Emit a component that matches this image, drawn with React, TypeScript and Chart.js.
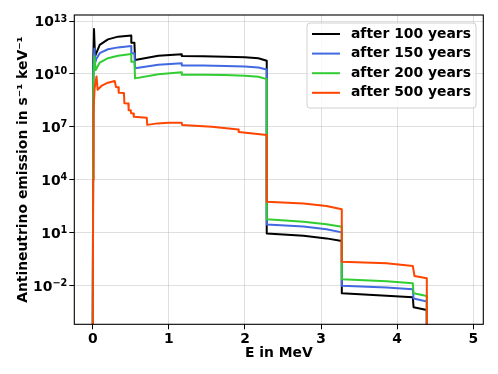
import React, { useEffect, useRef } from "react";
import { Chart, registerables } from "chart.js";

Chart.register(...registerables);

const seriesLabels = ["after 100 years", "after 150 years", "after 200 years", "after 500 years"];
const seriesColors = ["#000000", "#4169E1", "#32CD32", "#FF4500"];

// E in MeV, emission in s^-1 keV^-1
const energy100 = [0, 0.008, 0.017, 0.03, 0.047, 0.092, 0.2, 0.332, 0.507, 0.507, 0.548, 0.556, 0.862, 1.17, 1.17, 1.45, 1.74, 2.0, 2.176, 2.286, 2.286, 2.77, 3.07, 3.272, 3.272, 3.86, 4.205, 4.215, 4.389, 4.389];
const emission100 = [1e-6, 6.3e10, 3.5e12, 1.0e11, 1.5e11, 4.4e11, 9.1e11, 1.3e12, 1.5e12, 5.9e11, 5.9e11, 6.2e10, 1.07e11, 1.3e11, 1.05e11, 1.02e11, 9.5e10, 8.7e10, 7.8e10, 5.6e10, 9.1, 6.8, 4.8, 3.4, 3.7e-3, 2.7e-3, 2.2e-3, 6.0e-4, 4.2e-4, 1e-6];

const energy150 = [0, 0.008, 0.022, 0.034, 0.047, 0.092, 0.2, 0.332, 0.507, 0.507, 0.548, 0.556, 0.862, 1.17, 1.17, 1.45, 1.74, 2.0, 2.176, 2.286, 2.286, 2.77, 3.07, 3.272, 3.272, 3.86, 4.205, 4.215, 4.389, 4.389];
const emission150 = [1e-6, 3.2e10, 2.8e11, 4.4e10, 7.1e10, 1.5e11, 2.5e11, 3.2e11, 3.8e11, 1.5e11, 1.5e11, 2.1e10, 3.3e10, 4.0e10, 3.0e10, 3.0e10, 2.8e10, 2.6e10, 2.3e10, 1.8e10, 29.5, 22.4, 15.8, 10.5, 1.0e-2, 7.9e-3, 6.3e-3, 1.9e-3, 1.26e-3, 1e-6];

const energy200 = [0, 0.008, 0.022, 0.04, 0.092, 0.2, 0.332, 0.507, 0.507, 0.548, 0.556, 0.862, 1.17, 1.17, 1.45, 1.74, 2.0, 2.176, 2.286, 2.286, 2.77, 3.07, 3.272, 3.272, 3.86, 4.205, 4.215, 4.389, 4.389];
const emission200 = [1e-6, 6.3e9, 1.0e11, 1.66e10, 4.4e10, 7.8e10, 1.07e11, 1.35e11, 4.9e10, 4.9e10, 5.6e9, 9.5e9, 1.23e10, 9.1e9, 9.1e9, 8.7e9, 7.9e9, 6.9e9, 5.1e9, 57.5, 41.7, 30.2, 21.9, 2.3e-2, 1.78e-2, 1.38e-2, 3.7e-3, 2.6e-3, 1e-6];

const energy500 = [0, 0.006, 0.012, 0.025, 0.05, 0.065, 0.12, 0.2, 0.289, 0.306, 0.337, 0.342, 0.41, 0.416, 0.468, 0.472, 0.5, 0.505, 0.534, 0.54, 0.71, 0.716, 0.85, 0.993, 1.17, 1.175, 1.564, 1.913, 1.918, 2.286, 2.286, 2.77, 3.07, 3.272, 3.272, 3.86, 4.205, 4.227, 4.389, 4.389];
const emission500 = [1e-6, 1e4, 1e8, 1.6e9, 7.2e9, 1.26e9, 2.2e9, 3.2e9, 4.0e9, 1.8e9, 1.74e9, 8.7e8, 8.3e8, 2.2e8, 2.1e8, 8.9e7, 8.7e7, 5.9e7, 5.75e7, 3.7e7, 3.3e7, 1.3e7, 1.58e7, 1.7e7, 1.7e7, 1.26e7, 1.02e7, 7.2e6, 5.2e6, 3.5e6, 575, 457, 324, 214, 0.23, 0.186, 0.132, 0.0355, 0.0263, 1e-6];

const xTicks = [0, 1, 2, 3, 4, 5];
const xTickLabels = ["0", "1", "2", "3", "4", "5"];
const yTicks = [1e-2, 1e1, 1e4, 1e7, 1e10, 1e13];
const yTickBase = "10";
const yTickExponents = ["\u22122", "1", "4", "7", "10", "13"];

const xTitle = "E in MeV";
const yTitle = "Antineutrino emission in s⁻¹ keV⁻¹";

const FONT_FAMILY = "'DejaVu Sans', 'Liberation Sans', sans-serif";
const FS = 13.9;
const FS_SUP = 9.7;

const frameAndLegend = {
  id: "frameAndLegend",
  afterDraw(chart: any) {
    const { ctx, chartArea } = chart;
    const { left, right, top, bottom } = chartArea;
    ctx.save();
    // frame
    ctx.strokeStyle = "#000";
    ctx.lineWidth = 1.1;
    ctx.strokeRect(left, top, right - left, bottom - top);

    // y tick labels with superscript exponents
    const yScale = chart.scales.y;
    const labelRight = left - 7;
    ctx.fillStyle = "#000";
    ctx.textBaseline = "alphabetic";
    ctx.textAlign = "left";
    yTicks.forEach((v, i) => {
      const py = yScale.getPixelForValue(v);
      ctx.font = `bold ${FS_SUP}px ${FONT_FAMILY}`;
      const wExp = ctx.measureText(yTickExponents[i]).width;
      ctx.font = `bold ${FS}px ${FONT_FAMILY}`;
      const wBase = ctx.measureText(yTickBase).width;
      const xb = labelRight - wExp - wBase;
      ctx.fillText(yTickBase, xb, py + 5);
      ctx.font = `bold ${FS_SUP}px ${FONT_FAMILY}`;
      ctx.fillText(yTickExponents[i], xb + wBase, py + 0.5);
    });

    // legend
    const w = 169;
    const h = 85;
    const x0 = right - 7.3 - w;
    const y0 = top + 8;
    const r = 3;
    ctx.beginPath();
    ctx.moveTo(x0 + r, y0);
    ctx.lineTo(x0 + w - r, y0);
    ctx.arcTo(x0 + w, y0, x0 + w, y0 + r, r);
    ctx.lineTo(x0 + w, y0 + h - r);
    ctx.arcTo(x0 + w, y0 + h, x0 + w - r, y0 + h, r);
    ctx.lineTo(x0 + r, y0 + h);
    ctx.arcTo(x0, y0 + h, x0, y0 + h - r, r);
    ctx.lineTo(x0, y0 + r);
    ctx.arcTo(x0, y0, x0 + r, y0, r);
    ctx.closePath();
    ctx.fillStyle = "rgba(255,255,255,0.8)";
    ctx.fill();
    ctx.strokeStyle = "#d0d0d0";
    ctx.lineWidth = 1;
    ctx.stroke();

    ctx.font = `bold ${FS}px ${FONT_FAMILY}`;
    ctx.textBaseline = "middle";
    ctx.textAlign = "left";
    chart.data.datasets.forEach((ds: any, i: number) => {
      const cy = y0 + 11 + i * 19.6;
      ctx.strokeStyle = ds.borderColor;
      ctx.lineWidth = 2;
      ctx.beginPath();
      ctx.moveTo(x0 + 5, cy);
      ctx.lineTo(x0 + 33, cy);
      ctx.stroke();
      ctx.fillStyle = "#000";
      ctx.fillText(ds.label, x0 + 44, cy);
    });
    ctx.restore();
  },
};

export default function App() {
  const canvasRef = useRef<HTMLCanvasElement | null>(null);

  useEffect(() => {
    document.body.style.margin = "0";
    const canvas = canvasRef.current;
    if (!canvas) return;
    const energies = [energy100, energy150, energy200, energy500];
    const emissions = [emission100, emission150, emission200, emission500];
    const datasets = seriesLabels.map((label, k) => ({
      label,
      data: energies[k].map((e, i) => ({ x: e, y: emissions[k][i] })),
      borderColor: seriesColors[k],
      backgroundColor: seriesColors[k],
      borderWidth: 2,
      pointRadius: 0,
      tension: 0,
      fill: false,
      borderJoinStyle: "round" as const,
      order: seriesLabels.length - 1 - k,
    }));

    const font = { family: FONT_FAMILY, size: FS, weight: "bold" as const };
    const gridOpts = {
      color: "rgba(176,176,176,0.4)",
      lineWidth: 1,
      tickLength: 5,
      tickColor: "#000",
      tickWidth: 1,
    };

    const chart = new Chart(canvas, {
      type: "line",
      data: { datasets },
      plugins: [frameAndLegend],
      options: {
        animation: false,
        responsive: false,
        maintainAspectRatio: false,
        layout: { padding: { top: 15, right: 14.7, left: 0, bottom: 0 } },
        plugins: { legend: { display: false }, tooltip: { enabled: false } },
        scales: {
          x: {
            type: "linear",
            min: -0.242,
            max: 5.131,
            afterBuildTicks: (s: any) => {
              s.ticks = xTicks.map((v) => ({ value: v }));
            },
            afterFit: (s: any) => {
              s.height = 49.7;
            },
            ticks: {
              padding: 2,
              autoSkip: false,
              maxRotation: 0,
              color: "#000",
              font,
              callback: (_v: any, i: number) => xTickLabels[i],
            },
            grid: gridOpts,
            border: { display: false },
            title: { display: true, text: xTitle, color: "#000", font, padding: { top: 0, bottom: 12 } },
          },
          y: {
            type: "logarithmic",
            min: 6.49e-5,
            max: 2.19e13,
            afterBuildTicks: (s: any) => {
              s.ticks = yTicks.map((v) => ({ value: v }));
            },
            afterFit: (s: any) => {
              s.width = 74.3;
            },
            ticks: {
              display: false,
            },
            grid: gridOpts,
            border: { display: false },
            title: { display: true, text: yTitle, color: "#000", font, padding: { top: 15, bottom: 0 } },
          },
        },
      },
    });
    return () => chart.destroy();
  }, []);

  return (
    <div style={{ position: "absolute", left: 0, top: 0, width: 498, height: 374 }}>
      <canvas ref={canvasRef} width={498} height={374} style={{ display: "block" }} />
    </div>
  );
}
